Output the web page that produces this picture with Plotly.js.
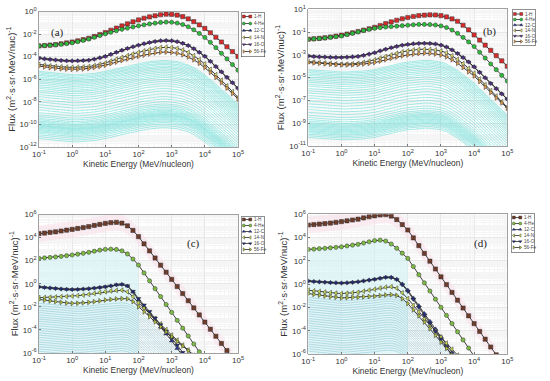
<!DOCTYPE html>
<html><head><meta charset="utf-8">
<script src="https://cdn.plot.ly/plotly-3.0.1.min.js"></script>
<style>html,body{margin:0;padding:0;background:#fff}#chart{width:550px;height:381px}</style>
</head><body><div id="chart"></div>
<script>
// Kinetic energy (MeV/nucleon), 6 points per decade
const energy = [0.1,0.1468,0.2154,0.3162,0.4642,0.6813,1,1.468,2.154,3.162,4.642,6.813,10,14.68,21.54,31.62,46.42,68.13,100,146.8,215.4,316.2,464.2,681.3,1000,1468,2154,3162,4642,6813,10000,14678,21544,31623,46416,68129,100000];

const speciesNames = ['1-H','4-He','12-C','14-N','16-O','56-Fe'];
const speciesSymbols = ['square','circle','triangle-up','triangle-left','triangle-down','triangle-right'];
const colorsTop = ['#d92a2a','#2cbc3c','#1c2a8e','#e6df72','#5b2d8e','#eaa24e'];
const colorsBottom = ['#6e3b2a','#7cbc42','#2a35a4','#cfe056','#1f2a7a','#b4c23e'];

// log10 flux values, panel (a)
const a_H  = [-3.05,-3.01,-2.97,-2.93,-2.86,-2.78,-2.70,-2.60,-2.49,-2.37,-2.21,-2.04,-1.86,-1.66,-1.47,-1.28,-1.09,-0.91,-0.75,-0.60,-0.48,-0.38,-0.29,-0.24,-0.25,-0.32,-0.45,-0.65,-0.90,-1.18,-1.50,-1.88,-2.28,-2.70,-3.12,-3.55,-3.98];
const a_He = [-3.05,-3.02,-2.99,-2.96,-2.90,-2.84,-2.77,-2.67,-2.56,-2.44,-2.29,-2.13,-1.98,-1.84,-1.71,-1.58,-1.47,-1.37,-1.27,-1.18,-1.10,-1.03,-0.97,-0.94,-0.95,-1.02,-1.15,-1.35,-1.62,-1.94,-2.30,-2.73,-3.20,-3.70,-4.20,-4.70,-5.20];
const a_C  = [-4.12,-4.18,-4.23,-4.28,-4.32,-4.35,-4.36,-4.35,-4.33,-4.30,-4.21,-4.09,-3.96,-3.78,-3.60,-3.42,-3.26,-3.11,-2.97,-2.84,-2.73,-2.64,-2.58,-2.56,-2.58,-2.66,-2.80,-3.00,-3.28,-3.60,-3.95,-4.40,-4.86,-5.33,-5.81,-6.29,-6.78];
const a_N  = [-4.69,-4.75,-4.81,-4.86,-4.90,-4.93,-4.95,-4.94,-4.92,-4.88,-4.79,-4.68,-4.56,-4.39,-4.22,-4.06,-3.91,-3.76,-3.62,-3.49,-3.37,-3.27,-3.19,-3.16,-3.19,-3.27,-3.41,-3.62,-3.91,-4.26,-4.65,-5.12,-5.60,-6.08,-6.58,-7.09,-7.60];
const a_O  = [-4.15,-4.21,-4.26,-4.31,-4.35,-4.38,-4.39,-4.38,-4.36,-4.33,-4.24,-4.12,-3.99,-3.81,-3.63,-3.45,-3.29,-3.14,-3.00,-2.87,-2.76,-2.67,-2.61,-2.59,-2.61,-2.69,-2.83,-3.03,-3.31,-3.63,-3.98,-4.43,-4.89,-5.36,-5.84,-6.32,-6.81];
const a_Fe = [-4.84,-4.91,-4.97,-5.02,-5.07,-5.10,-5.12,-5.11,-5.09,-5.05,-4.96,-4.86,-4.76,-4.62,-4.48,-4.34,-4.21,-4.09,-3.97,-3.86,-3.76,-3.67,-3.61,-3.59,-3.62,-3.70,-3.83,-4.02,-4.28,-4.59,-4.95,-5.39,-5.84,-6.30,-6.78,-7.26,-7.75];
// other elements: spectral profile (relative to 0.1 MeV/n) and level at 0.1 MeV/n
const a_otherProfile = [0,-0.06,-0.12,-0.17,-0.22,-0.27,-0.30,-0.30,-0.28,-0.25,-0.18,-0.10,-0.02,0.11,0.23,0.35,0.47,0.58,0.68,0.77,0.85,0.91,0.95,0.96,0.93,0.86,0.74,0.58,0.35,0.05,-0.30,-0.72,-1.13,-1.55,-1.99,-2.44,-2.90];
const a_otherLevels = [-5.30,-5.42,-5.55,-5.66,-5.80,-5.92,-6.05,-6.20,-6.34,-6.50,-6.66,-6.80,-6.98,-7.15,-7.35,-7.55,-7.78,-8.00,-8.25,-8.50,-8.72,-8.95,-9.15,-9.30,-9.45,-9.58,-9.70,-9.80,-9.90,-10.00,-10.08,-10.16,-10.25,-10.35,-10.45,-10.55,-10.66,-10.78,-10.92,-11.08,-11.25];

// panel (b)
const b_H  = [-1.63,-1.59,-1.55,-1.50,-1.43,-1.35,-1.27,-1.17,-1.06,-0.95,-0.83,-0.71,-0.58,-0.42,-0.26,-0.10,0.04,0.17,0.28,0.37,0.44,0.48,0.51,0.50,0.44,0.33,0.16,-0.05,-0.40,-0.80,-1.25,-1.70,-2.15,-2.60,-3.07,-3.53,-4.00];
const b_He = [-1.63,-1.60,-1.57,-1.52,-1.46,-1.40,-1.34,-1.23,-1.11,-0.99,-0.87,-0.76,-0.67,-0.61,-0.56,-0.52,-0.48,-0.44,-0.40,-0.36,-0.33,-0.33,-0.34,-0.38,-0.46,-0.60,-0.82,-1.11,-1.47,-1.86,-2.27,-2.77,-3.28,-3.80,-4.30,-4.80,-5.30];
const b_C  = [-3.09,-3.13,-3.16,-3.18,-3.20,-3.21,-3.21,-3.19,-3.16,-3.12,-3.03,-2.92,-2.80,-2.64,-2.49,-2.36,-2.24,-2.14,-2.07,-2.01,-1.98,-1.97,-1.98,-2.03,-2.13,-2.30,-2.55,-2.86,-3.22,-3.61,-4.03,-4.52,-5.00,-5.49,-5.95,-6.41,-6.87];
const b_N  = [-3.59,-3.64,-3.68,-3.72,-3.76,-3.80,-3.82,-3.81,-3.79,-3.75,-3.66,-3.56,-3.44,-3.28,-3.14,-3.00,-2.86,-2.74,-2.65,-2.57,-2.52,-2.51,-2.52,-2.57,-2.65,-2.82,-3.07,-3.39,-3.77,-4.18,-4.61,-5.12,-5.62,-6.13,-6.62,-7.11,-7.60];
const b_O  = [-3.12,-3.16,-3.19,-3.21,-3.23,-3.24,-3.24,-3.22,-3.19,-3.15,-3.06,-2.95,-2.83,-2.67,-2.52,-2.39,-2.27,-2.17,-2.10,-2.04,-2.01,-2.00,-2.01,-2.06,-2.16,-2.33,-2.58,-2.89,-3.25,-3.64,-4.06,-4.55,-5.03,-5.52,-5.98,-6.44,-6.90];
const b_Fe = [-3.68,-3.71,-3.75,-3.78,-3.82,-3.85,-3.88,-3.88,-3.87,-3.85,-3.80,-3.75,-3.68,-3.55,-3.42,-3.30,-3.19,-3.09,-3.01,-2.94,-2.88,-2.86,-2.87,-2.92,-3.01,-3.17,-3.42,-3.74,-4.11,-4.48,-4.85,-5.34,-5.83,-6.31,-6.77,-7.22,-7.68];
const b_otherProfile = [0,-0.04,-0.08,-0.12,-0.15,-0.18,-0.20,-0.20,-0.19,-0.17,-0.12,-0.06,0.00,0.13,0.26,0.38,0.49,0.59,0.67,0.74,0.79,0.82,0.81,0.76,0.67,0.51,0.26,-0.06,-0.43,-0.80,-1.17,-1.66,-2.14,-2.63,-3.09,-3.54,-4.00];
const b_otherLevels = [-4.30,-4.42,-4.55,-4.68,-4.80,-4.95,-5.10,-5.25,-5.40,-5.58,-5.75,-5.95,-6.15,-6.35,-6.58,-6.80,-7.05,-7.30,-7.55,-7.80,-8.05,-8.30,-8.50,-8.68,-8.82,-8.95,-9.05,-9.15,-9.25,-9.35,-9.45,-9.55,-9.65,-9.75,-9.85,-9.97,-10.10,-10.25];

// panel (c) (series end once below the axis)
const c_H  = [4.34,4.39,4.45,4.50,4.57,4.64,4.71,4.79,4.87,4.95,5.05,5.14,5.23,5.29,5.32,5.25,5.02,4.62,4.08,3.46,2.85,2.23,1.61,1.00,0.38,-0.24,-0.85,-1.47,-2.09,-2.70,-3.32,-3.94,-4.55,-5.17,-5.79,-6.41];
const c_He = [2.20,2.24,2.28,2.32,2.37,2.43,2.49,2.56,2.64,2.72,2.82,2.91,2.98,3.00,2.97,2.85,2.58,2.14,1.62,0.94,0.25,-0.43,-1.11,-1.80,-2.48,-3.17,-3.85,-4.53,-5.22,-5.90,-6.58];
const c_C  = [-0.26,-0.31,-0.36,-0.40,-0.44,-0.47,-0.49,-0.48,-0.45,-0.42,-0.37,-0.31,-0.26,-0.18,-0.09,-0.05,-0.20,-0.72,-1.40,-1.98,-2.56,-3.15,-3.75,-4.35,-4.95,-5.60,-6.25];
const c_N  = [-1.21,-1.19,-1.17,-1.15,-1.12,-1.10,-1.07,-1.03,-0.98,-0.92,-0.84,-0.76,-0.69,-0.62,-0.57,-0.56,-0.70,-1.12,-1.65,-2.10,-2.55,-3.00,-3.48,-3.97,-4.45,-4.88,-5.32,-5.75,-6.20];
const c_O  = [-0.28,-0.33,-0.38,-0.42,-0.46,-0.49,-0.51,-0.50,-0.47,-0.44,-0.39,-0.33,-0.27,-0.19,-0.10,-0.06,-0.18,-0.66,-1.28,-1.84,-2.40,-2.97,-3.55,-4.12,-4.70,-5.32,-5.95,-6.58];
const c_Fe = [-1.36,-1.43,-1.49,-1.55,-1.61,-1.66,-1.70,-1.69,-1.66,-1.62,-1.55,-1.48,-1.41,-1.36,-1.32,-1.29,-1.30,-1.55,-2.00,-2.43,-2.86,-3.30,-3.73,-4.17,-4.60,-5.00,-5.40,-5.80,-6.20];
const c_otherProfile = [0,-0.05,-0.10,-0.15,-0.20,-0.26,-0.30,-0.30,-0.28,-0.25,-0.19,-0.13,-0.08,-0.02,0.03,0.05,-0.02,-0.25,-0.60,-1.05,-1.52,-2.00,-2.50,-3.00,-3.50,-4.00,-4.50,-5.00];
const c_otherLevels = [-1.70,-1.90,-2.10,-2.30,-2.50,-2.70,-2.88,-3.06,-3.25,-3.45,-3.65,-3.85,-4.05,-4.25,-4.45,-4.65,-4.85,-5.05,-5.25,-5.45,-5.65,-5.85];

// panel (d)
const d_H  = [5.08,5.12,5.16,5.20,5.25,5.31,5.37,5.44,5.51,5.58,5.69,5.79,5.87,5.94,5.97,5.85,5.55,5.12,4.65,3.98,3.31,2.64,1.97,1.30,0.63,-0.04,-0.71,-1.38,-2.05,-2.72,-3.39,-4.06,-4.73,-5.40,-6.07];
const d_He = [2.98,3.01,3.05,3.08,3.12,3.16,3.21,3.28,3.35,3.42,3.53,3.64,3.74,3.78,3.70,3.45,3.08,2.66,2.21,1.51,0.81,0.11,-0.59,-1.29,-1.99,-2.69,-3.39,-4.09,-4.79,-5.49,-6.19];
const d_C  = [0.28,0.24,0.21,0.18,0.15,0.13,0.11,0.13,0.17,0.22,0.29,0.36,0.43,0.52,0.60,0.60,0.43,0.02,-0.52,-1.19,-1.85,-2.52,-3.19,-3.85,-4.52,-5.19,-5.85,-6.52];
const d_N  = [-0.52,-0.58,-0.63,-0.68,-0.73,-0.77,-0.81,-0.78,-0.74,-0.70,-0.61,-0.52,-0.44,-0.34,-0.26,-0.22,-0.35,-0.75,-1.24,-1.82,-2.40,-2.97,-3.50,-4.02,-4.55,-5.07,-5.59,-6.10];
const d_O  = [0.25,0.21,0.18,0.15,0.12,0.10,0.08,0.10,0.14,0.19,0.26,0.33,0.40,0.49,0.57,0.56,0.38,-0.06,-0.62,-1.31,-1.99,-2.68,-3.36,-4.05,-4.73,-5.42,-6.10];
const d_Fe = [-0.81,-0.88,-0.95,-1.02,-1.08,-1.13,-1.18,-1.16,-1.14,-1.12,-1.09,-1.06,-1.04,-0.98,-0.93,-0.90,-0.97,-1.25,-1.67,-2.20,-2.72,-3.25,-3.83,-4.40,-4.98,-5.52,-6.06];
const d_otherProfile = [0,-0.06,-0.11,-0.16,-0.21,-0.26,-0.30,-0.28,-0.25,-0.22,-0.16,-0.10,-0.05,0.02,0.07,0.08,-0.02,-0.30,-0.70,-1.20,-1.70,-2.20,-2.73,-3.27,-3.80,-4.35,-4.90,-5.45];
const d_otherLevels = [-1.15,-1.35,-1.55,-1.75,-1.95,-2.15,-2.35,-2.55,-2.75,-2.95,-3.15,-3.35,-3.55,-3.75,-3.95,-4.15,-4.35,-4.55,-4.75,-4.95,-5.15,-5.35,-5.55,-5.75];

const xTickExp = [-1,0,1,2,3,4,5];
const yTickExp_a = [-12,-10,-8,-6,-4,-2,0];
const yTickExp_b = [-11,-9,-7,-5,-3,-1,1];
const yTickExp_cd = [-6,-4,-2,0,2,4,6];
const panelLabels = ['(a)','(b)','(c)','(d)'];

const pow10 = v => Math.pow(10, v);
const W = 550, H = 381;
const panels = [
  {ax:'', series:[a_H,a_He,a_C,a_N,a_O,a_Fe], prof:a_otherProfile, lev:a_otherLevels, colors:colorsTop, cyan:'rgba(48,214,204,0.6)', yr:[-12,0], yt:yTickExp_a, shade:false},
  {ax:'2', series:[b_H,b_He,b_C,b_N,b_O,b_Fe], prof:b_otherProfile, lev:b_otherLevels, colors:colorsTop, cyan:'rgba(48,214,204,0.6)', yr:[-11,1], yt:yTickExp_b, shade:false},
  {ax:'3', series:[c_H,c_He,c_C,c_N,c_O,c_Fe], prof:c_otherProfile, lev:c_otherLevels, colors:colorsBottom, cyan:'rgba(100,175,195,0.55)', yr:[-6,6], yt:yTickExp_cd, shade:true},
  {ax:'4', series:[d_H,d_He,d_C,d_N,d_O,d_Fe], prof:d_otherProfile, lev:d_otherLevels, colors:colorsBottom, cyan:'rgba(100,175,195,0.55)', yr:[-6,6], yt:yTickExp_cd, shade:true}
];
// plot areas and legend boxes in pixels [left, top, right, bottom]
const plotBox = [[39,11.5,238,147],[308.3,9.3,507.3,146],[39,214.5,238,353],[308.3,214.3,507.3,354]];
const legBox = [[242,12.5,264,56.5],[513,10,535,45],[242,216.5,264,253.5],[512,214,534,252]];
const legRows = [[4,7],[4,5.5],[3,6],[3.5,6]];
const labPos = [[57,33],[489,31],[193,243],[480,243]];

const traces = [];
const layout = {width:W, height:H, margin:{l:0,r:0,t:0,b:0}, paper_bgcolor:'#fff', plot_bgcolor:'rgba(0,0,0,0)',
  font:{family:'Liberation Sans, Arial, sans-serif', color:'#333'}, showlegend:false, annotations:[]};

panels.forEach((p, i) => {
  const xr = 'x'+p.ax, yr = 'y'+p.ax;
  if (p.shade) {
    // light bands seen in the figure: behind the other-element curves and around the proton curve
    const He = p.series[1].slice(0, 19);
    traces.push({x: energy.slice(0,19), y: He.map(() => pow10(p.yr[0]-1)), mode:'lines', line:{width:0}, hoverinfo:'skip', xaxis:xr, yaxis:yr});
    traces.push({x: energy.slice(0,19), y: He.map(v => pow10(v-0.15)), mode:'lines', line:{width:0}, fill:'tonexty', fillcolor:'rgba(205,242,246,0.55)', hoverinfo:'skip', xaxis:xr, yaxis:yr});
    const Hs = p.series[0];
    traces.push({x: energy.slice(0,Hs.length), y: Hs.map(v => pow10(v-0.7)), mode:'lines', line:{width:0}, hoverinfo:'skip', xaxis:xr, yaxis:yr});
    traces.push({x: energy.slice(0,Hs.length), y: Hs.map(v => pow10(v+0.7)), mode:'lines', line:{width:0}, fill:'tonexty', fillcolor:'rgba(252,222,233,0.5)', hoverinfo:'skip', xaxis:xr, yaxis:yr});
  }
  p.lev.forEach(L => {
    traces.push({x: energy.slice(0, p.prof.length), y: p.prof.map(s => pow10(L + s)), type:'scatter', mode:'lines',
      line:{color:p.cyan, width:0.7}, hoverinfo:'skip', xaxis:xr, yaxis:yr});
  });
  p.series.forEach((s, j) => {
    traces.push({x: energy.slice(0, s.length), y: s.map(pow10), type:'scatter', mode:'lines+markers', name: speciesNames[j],
      line:{color:'#2a2a2a', width:0.9},
      marker:{symbol:speciesSymbols[j], size:4.2, color:p.colors[j], line:{color:'#333', width:0.5}},
      xaxis:xr, yaxis:yr});
  });

  const b = plotBox[i];
  layout['xaxis'+p.ax] = {domain:[b[0]/W, b[2]/W], anchor:yr, type:'log', range:[-1,5], tickmode:'array',
    tickvals: xTickExp.map(pow10), ticktext: xTickExp.map(e => '10<sup>'+e+'</sup>'),
    showline:true, mirror:true, linecolor:'#8a8a8a', linewidth:0.8, gridcolor:'#e8e8e8', ticks:'inside', ticklen:2, tickcolor:'#777',
    minor:{showgrid:true, gridcolor:'#f5f5f5', dtick:'D1', ticks:''},
    tickfont:{size:8, color:'#333'}, zeroline:false,
    title:{text:'Kinetic Energy (MeV/nucleon)', font:{size:8.4, color:'#333'}, standoff:1}};
  layout['yaxis'+p.ax] = {domain:[1-b[3]/H, 1-b[1]/H], anchor:xr, type:'log', range:p.yr, tickmode:'array',
    tickvals: p.yt.map(pow10), ticktext: p.yt.map(e => '10<sup>'+e+'</sup>'),
    showline:true, mirror:true, linecolor:'#8a8a8a', linewidth:0.8, gridcolor:'#e8e8e8', ticks:'inside', ticklen:2, tickcolor:'#777',
    minor:{showgrid:true, gridcolor:'#f5f5f5', dtick:'D1', ticks:''},
    tickfont:{size:8, color:'#333'}, zeroline:false,
    title:{text:'Flux (m<sup>2</sup>·s·sr·MeV/nuc)<sup>-1</sup>', font:{size:9.6, color:'#333'}, standoff:2}};

  // legend drawn on its own small axis pair
  const lb = legBox[i], n = String(5+i), lw = lb[2]-lb[0], lh = lb[3]-lb[1];
  layout['xaxis'+n] = {domain:[lb[0]/W, lb[2]/W], anchor:'y'+n, range:[0,lw], showgrid:false, zeroline:false, showticklabels:false, ticks:'',
    showline:true, mirror:true, linecolor:'#444', linewidth:0.6, fixedrange:true};
  layout['yaxis'+n] = {domain:[1-lb[3]/H, 1-lb[1]/H], anchor:'x'+n, range:[lh,0], showgrid:false, zeroline:false, showticklabels:false, ticks:'',
    showline:true, mirror:true, linecolor:'#444', linewidth:0.6, fixedrange:true};
  speciesNames.forEach((nm, j) => {
    const ry = legRows[i][0] + legRows[i][1]*j;
    traces.push({x:[1.8, 8.3], y:[ry, ry], mode:'lines+markers', xaxis:'x'+n, yaxis:'y'+n, hoverinfo:'skip',
      line:{color:'#2a2a2a', width:0.8}, marker:{symbol:speciesSymbols[j], size:3, color:p.colors[j], line:{color:'#333', width:0.4}}});
    layout.annotations.push({text:nm, xref:'x'+n, yref:'y'+n, x:9.6, y:ry, xanchor:'left', yanchor:'middle', showarrow:false,
      font:{size:4.6, color:'#444'}});
  });
  layout.annotations.push({text:panelLabels[i], xref:'paper', yref:'paper', x:labPos[i][0]/W, y:1-labPos[i][1]/H, xanchor:'center', yanchor:'middle', showarrow:false,
    font:{family:'Liberation Serif, Times New Roman, serif', size:11, color:'#222'}});
});
Plotly.newPlot('chart', traces, layout, {staticPlot:true});
</script></body></html>
